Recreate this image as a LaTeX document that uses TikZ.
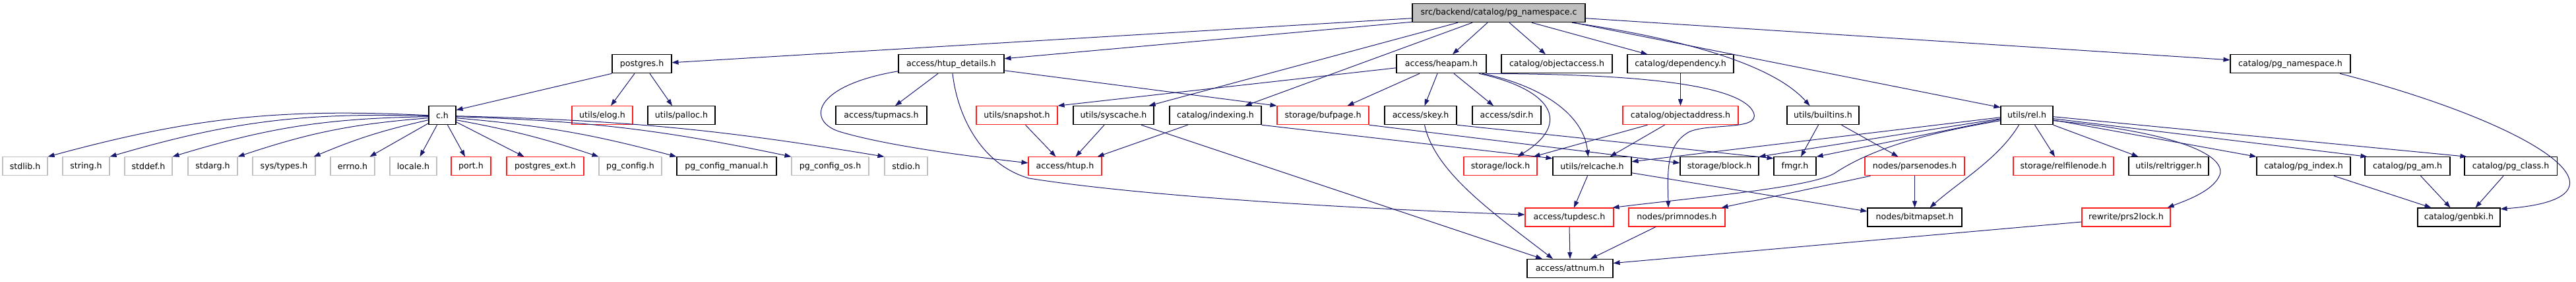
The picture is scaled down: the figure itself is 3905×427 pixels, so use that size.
\documentclass[tikz,border=0pt]{standalone}
\usepackage{fontspec}
\setmainfont{DejaVu Sans}
\usetikzlibrary{arrows.meta}
\definecolor{edgecol}{RGB}{25,25,112}
\definecolor{grayb}{RGB}{191,191,191}
\definecolor{redb}{RGB}{255,30,30}
\tikzset{
  bx/.style={draw=black, line width=1.1pt, minimum height=28pt, inner sep=0pt, font=\fontsize{12.6}{15}\selectfont, fill=white},
  bxred/.style={bx, draw=redb},
  bxgray/.style={bx, draw=grayb},
  bxroot/.style={bx, fill=grayb},
  conn/.style={draw=edgecol, line width=1pt, -{Triangle[length=10pt,width=7pt]}},
}
\begin{document}
\begin{tikzpicture}[x=1pt,y=-1pt]
\useasboundingbox (0,0) rectangle (3905,427);
% row 0
\node[bxroot, minimum width=262pt] (root) at (2272,19.7) {src/backend/catalog/pg\_namespace.c};
% row 1
\node[bx, minimum width=90pt] (postgres) at (973,96.8) {postgres.h};
\node[bx, minimum width=160pt] (hd) at (1442,96.8) {access/htup\_details.h};
\node[bx, minimum width=136pt] (heapam) at (2185,96.8) {access/heapam.h};
\node[bx, minimum width=168pt] (objaccess) at (2360,96.8) {catalog/objectaccess.h};
\node[bx, minimum width=161pt] (dependency) at (2547.5,96.8) {catalog/dependency.h};
\node[bx, minimum width=182pt] (pgns) at (3472,96.8) {catalog/pg\_namespace.h};
% row 2
\node[bx, minimum width=41pt] (ch) at (670.5,174.7) {c.h};
\node[bxred, minimum width=92pt] (elog) at (913,174.7) {utils/elog.h};
\node[bx, minimum width=102pt] (palloc) at (1033,174.7) {utils/palloc.h};
\node[bx, minimum width=138pt] (tupmacs) at (1336,174.7) {access/tupmacs.h};
\node[bxred, minimum width=123pt] (snapshot) at (1541.5,174.7) {utils/snapshot.h};
\node[bx, minimum width=122pt] (syscache) at (1688,174.7) {utils/syscache.h};
\node[bx, minimum width=139pt] (indexing) at (1842.5,174.7) {catalog/indexing.h};
\node[bxred, minimum width=139pt] (bufpage) at (2005.5,174.7) {storage/bufpage.h};
\node[bx, minimum width=109pt] (skey) at (2153.5,174.7) {access/skey.h};
\node[bx, minimum width=104pt] (sdir) at (2284,174.7) {access/sdir.h};
\node[bxred, minimum width=175pt] (objaddr) at (2547.5,174.7) {catalog/objectaddress.h};
\node[bx, minimum width=109pt] (builtins) at (2763.5,174.7) {utils/builtins.h};
\node[bx, minimum width=79pt] (rel) at (3072.5,174.7) {utils/rel.h};
% row 3
\node[bxgray, minimum width=68pt] (stdlib) at (38,251.8) {stdlib.h};
\node[bxgray, minimum width=71pt] (string) at (130.5,251.8) {string.h};
\node[bxgray, minimum width=72pt] (stddef) at (225,251.8) {stddef.h};
\node[bxgray, minimum width=75pt] (stdarg) at (322.5,251.8) {stdarg.h};
\node[bxgray, minimum width=95pt] (systypes) at (430.5,251.8) {sys/types.h};
\node[bxgray, minimum width=67pt] (errno) at (534.5,251.8) {errno.h};
\node[bxgray, minimum width=71pt] (locale) at (626.5,251.8) {locale.h};
\node[bxred, minimum width=60pt] (port) at (714,251.8) {port.h};
\node[bxred, minimum width=117pt] (pgext) at (826.5,251.8) {postgres\_ext.h};
\node[bxgray, minimum width=95pt] (pgconfig) at (955.5,251.8) {pg\_config.h};
\node[bx, minimum width=151pt] (pgmanual) at (1101.5,251.8) {pg\_config\_manual.h};
\node[bxgray, minimum width=117pt] (pgos) at (1258.5,251.8) {pg\_config\_os.h};
\node[bxgray, minimum width=65pt] (stdio) at (1373.5,251.8) {stdio.h};
\node[bxred, minimum width=111pt] (htup) at (1614.5,251.8) {access/htup.h};
\node[bxred, minimum width=111pt] (lock) at (2274.5,251.8) {storage/lock.h};
\node[bx, minimum width=119pt] (relcache) at (2413.5,251.8) {utils/relcache.h};
\node[bx, minimum width=119pt] (block) at (2606.5,251.8) {storage/block.h};
\node[bx, minimum width=64pt] (fmgr) at (2721,251.8) {fmgr.h};
\node[bxred, minimum width=151pt] (parsenodes) at (2902.5,251.8) {nodes/parsenodes.h};
\node[bxred, minimum width=152pt] (relfilenode) at (3128,251.8) {storage/relfilenode.h};
\node[bx, minimum width=121pt] (reltrigger) at (3287.5,251.8) {utils/reltrigger.h};
\node[bx, minimum width=142pt] (pgindex) at (3492,251.8) {catalog/pg\_index.h};
\node[bx, minimum width=129pt] (pgam) at (3649.5,251.8) {catalog/pg\_am.h};
\node[bx, minimum width=140pt] (pgclass) at (3806,251.8) {catalog/pg\_class.h};
% row 4
\node[bxred, minimum width=134pt] (tupdesc) at (2379,329) {access/tupdesc.h};
\node[bxred, minimum width=146pt] (primnodes) at (2542,329) {nodes/primnodes.h};
\node[bx, minimum width=143pt] (bitmapset) at (2902.5,329) {nodes/bitmapset.h};
\node[bxred, minimum width=134pt] (prs2lock) at (3223,329) {rewrite/prs2lock.h};
\node[bx, minimum width=125pt] (genbki) at (3727.5,329) {catalog/genbki.h};
% row 5
\node[bx, minimum width=130pt] (attnum) at (2380,406.5) {access/attnum.h};

% ---- edges from root
\draw[conn] ([yshift=-8pt]root.west) -- ([yshift=2pt]postgres.east);
\draw[conn] ([yshift=1pt]root.south west) -- ([yshift=8pt]hd.east);
\draw[conn] ([xshift=-62pt]root.south) -- ([xshift=-8pt]syscache.north east);
\draw[conn] ([xshift=-40pt]root.south) -- ([xshift=45pt]indexing.north);
\draw[conn] ([xshift=-17pt]root.south) -- ([xshift=17pt]heapam.north);
\draw[conn] ([xshift=16pt]root.south) -- ([xshift=-17pt]objaccess.north);
\draw[conn] ([xshift=50pt]root.south) -- ([xshift=-50pt]dependency.north);
\draw[conn] ([xshift=111pt]root.south) .. controls (2560,60) and (2690,100) .. ([xshift=-20pt]builtins.north);
\draw[conn] ([xshift=113pt]root.south) -- ([yshift=12pt]rel.west);
\draw[conn] ([yshift=-8pt]root.east) -- ([yshift=6pt]pgns.west);

% ---- postgres.h
\draw[conn] (postgres.south west) -- ([yshift=8pt]ch.east);
\draw[conn] ([xshift=-11pt]postgres.south) -- ([xshift=13pt]elog.north);
\draw[conn] ([xshift=12pt]postgres.south) -- ([xshift=-14pt]palloc.north);

% ---- c.h fan
\draw[conn] (ch.west) to[bend right=9] (stdlib.north east);
\draw[conn] ([yshift=-1pt]ch.west) to[bend right=9] (string.north east);
\draw[conn] ([yshift=-2pt]ch.west) to[bend right=8] (stddef.north east);
\draw[conn] ([yshift=-4pt]ch.west) to[bend right=7] (stdarg.north east);
\draw[conn] ([yshift=-7pt]ch.west) to[bend right=5] ([xshift=-3pt]systypes.north east);
\draw[conn] ([yshift=-12pt]ch.west) -- ([xshift=26pt]errno.north);
\draw[conn] ([xshift=-8pt]ch.south) -- ([xshift=10pt]locale.north);
\draw[conn] ([xshift=8pt]ch.south) -- ([xshift=-9pt]port.north);
\draw[conn] ([yshift=-10pt]ch.east) -- ([xshift=-32pt]pgext.north);
\draw[conn] ([yshift=-7pt]ch.east) to[bend left=4] (pgconfig.north west);
\draw[conn] ([yshift=-4pt]ch.east) to[bend left=5] (pgmanual.north west);
\draw[conn] ([yshift=-2pt]ch.east) to[bend left=5] (pgos.north west);
\draw[conn] ([yshift=-1pt]ch.east) to[bend left=4] (stdio.north west);

% ---- htup_details.h
\draw[conn] ([xshift=-20pt]hd.south) -- ([xshift=21pt]tupmacs.north);
\draw[conn] ([yshift=-11pt]hd.west) .. controls (1230,130) and (1222,185) .. (1275,200) .. controls (1350,222) and (1480,238) .. ([yshift=5pt]htup.west);
\draw[conn] ([xshift=2pt]hd.south) .. controls (1452,180) and (1490,250) .. (1560,270) .. controls (1750,300) and (2100,318) .. ([yshift=4pt]tupdesc.west);
\draw[conn] ([yshift=-10pt]hd.east) -- (bufpage.north west);

% ---- row 2 left
\draw[conn] ([xshift=13pt]snapshot.south) -- ([xshift=-14pt]htup.north);
\draw[conn] ([xshift=-14pt]syscache.south) -- ([xshift=16pt]htup.north);
\draw[conn] ([xshift=42pt]syscache.south) -- ([xshift=-42pt]attnum.north);
\draw[conn] ([xshift=-42pt]indexing.south) -- ([xshift=-7pt]htup.north east);
\draw[conn] (indexing.south east) -- ([yshift=12pt]relcache.west);
\draw[conn] (bufpage.south east) -- ([yshift=5pt]block.west);

% ---- heapam.h
\draw[conn] ([yshift=-6pt]heapam.west) -- (snapshot.north east);
\draw[conn] ([xshift=-33pt]heapam.south) -- ([xshift=37pt]bufpage.north);
\draw[conn] ([xshift=-6pt]heapam.south) -- ([xshift=6pt]skey.north);
\draw[conn] ([xshift=19pt]heapam.south) -- ([xshift=-20pt]sdir.north);
\draw[conn] ([xshift=57pt]heapam.south) .. controls (2350,135) and (2385,185) .. ([xshift=26pt]lock.north);
\draw[conn] ([xshift=62pt]heapam.south) .. controls (2330,128) and (2400,170) .. ([xshift=-6pt]relcache.north);
\draw[conn] (heapam.south east) .. controls (2420,112) and (2620,120) .. (2655,165) .. controls (2680,200) and (2590,185) .. (2560,200) .. controls (2525,220) and (2528,260) .. ([xshift=-13pt]primnodes.north);

% ---- dependency / objectaddress
\draw[conn] (dependency.south) -- (objaddr.north);
\draw[conn] ([xshift=-50pt]objaddr.south) -- ([xshift=-6pt]lock.north east);
\draw[conn] ([xshift=-24pt]objaddr.south) -- ([xshift=27pt]relcache.north);

% ---- skey
\draw[conn] ([xshift=6pt]skey.south) .. controls (2175,260) and (2260,320) .. ([xshift=-26pt]attnum.north);
\draw[conn] (skey.south east) -- ([yshift=12pt]fmgr.west);

% ---- builtins
\draw[conn] ([xshift=-7pt]builtins.south) -- ([xshift=9pt]fmgr.north);
\draw[conn] ([xshift=28pt]builtins.south) -- ([xshift=-25pt]parsenodes.north);

% ---- rel.h
\draw[conn] ([yshift=-3pt]rel.west) -- ([yshift=7pt]relcache.east);
\draw[conn] ([yshift=-5pt]rel.west) -- (block.north east);
\draw[conn] ([yshift=-6pt]rel.west) -- (fmgr.north east);
\draw[conn] ([yshift=-8pt]rel.west) .. controls (2900,205) and (2830,230) .. (2780,263) .. controls (2740,285) and (2560,300) .. ([xshift=-2pt]tupdesc.north east);
\draw[conn] ([xshift=-12pt]rel.south) .. controls (3030,240) and (2970,275) .. ([xshift=23pt]bitmapset.north);
\draw[conn] ([xshift=12pt]rel.south) -- ([xshift=-13pt]relfilenode.north);
\draw[conn] (rel.south east) -- ([xshift=-46pt]reltrigger.north);
\draw[conn] ([yshift=-7pt]rel.east) -- (pgindex.north west);
\draw[conn] ([yshift=-5pt]rel.east) -- ([xshift=4pt]pgam.north west);
\draw[conn] ([yshift=-2pt]rel.east) -- ([xshift=4pt]pgclass.north west);
\draw[conn] ([yshift=-8pt]rel.east) .. controls (3300,200) and (3375,235) .. (3365,265) .. controls (3355,290) and (3310,305) .. ([xshift=-5pt]prs2lock.north east);

% ---- row 3 / 4
\draw[conn] ([xshift=-7pt]relcache.south) -- ([xshift=7pt]tupdesc.north);
\draw[conn] ([yshift=-10pt]relcache.east) -- ([yshift=9pt]bitmapset.west);
\draw[conn] ([xshift=-67pt]parsenodes.south) -- ([xshift=-6pt]primnodes.north east);
\draw[conn] (parsenodes.south) -- (bitmapset.north);
\draw[conn] (tupdesc.south) -- (attnum.north);
\draw[conn] ([xshift=-32pt]primnodes.south) -- ([xshift=31pt]attnum.north);
\draw[conn] ([yshift=-7pt]prs2lock.west) -- ([yshift=8pt]attnum.east);
\draw[conn] ([xshift=46pt]pgindex.south) -- ([xshift=-42pt]genbki.north);
\draw[conn] ([xshift=20pt]pgam.south) -- ([xshift=-13pt]genbki.north);
\draw[conn] ([xshift=-11pt]pgclass.south) -- ([xshift=25pt]genbki.north);
\draw[conn] ([xshift=75pt]pgns.south) .. controls (3850,190) and (4010,300) .. ([yshift=-2pt]genbki.north east);
\end{tikzpicture}
\end{document}
